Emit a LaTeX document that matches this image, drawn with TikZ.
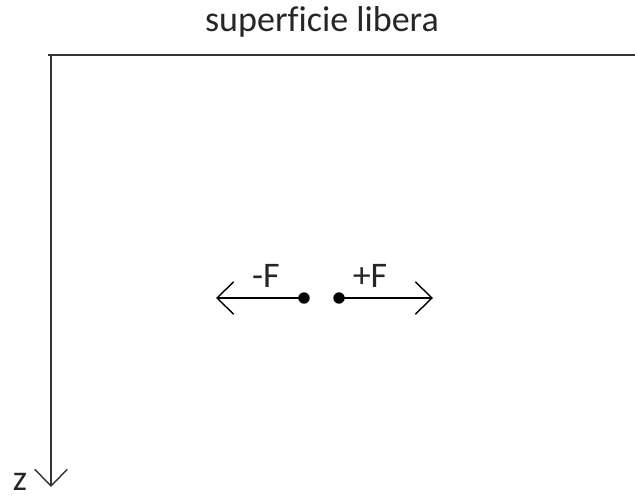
\documentclass[tikz,border=0pt]{standalone}
\usepackage{fontspec}
\setmainfont{Carlito}[Ligatures=CommonOff]
\usetikzlibrary{arrows.meta}

\begin{document}
\begin{tikzpicture}[x=0.02cm, y=-0.02cm]
    \useasboundingbox (0,0) rectangle (635,501);

    \tikzset{
        barb/.style={-{Straight Barb[length=9.5pt, width=18.5pt, line width=0.8pt]}},
        dot/.style={circle, fill=black, inner sep=0pt, minimum size=6.5pt},
        lbl/.style={font=\fontsize{20.5}{24}\selectfont, text=black!85}
    }

    \coordinate (corner) at (51, 55);
    \coordinate (topend) at (635, 55);
    \coordinate (zend) at (51, 487);
    \coordinate (tipL) at (216, 298);
    \coordinate (tipR) at (433, 298);

    \node[dot] (dotL) at (304, 298) {};
    \node[dot] (dotR) at (339, 298) {};

    \draw[line width=1.1pt, color=black!80] (48, 55) -- (topend);
    \draw[line width=0.9pt, color=black!80, barb] (corner) -- (zend);

    \draw[line width=0.8pt, barb] (dotL.center) -- (tipL);
    \draw[line width=0.8pt, barb] (dotR.center) -- (tipR);

    \node[lbl] (title) at (322, 22) {superficie libera};
    \node[lbl] (minusF) at (266, 276) {-F};
    \node[lbl] (plusF) at (370, 276) {+F};
    \node[lbl, inner sep=0pt] (zlabel) at (20, 482) {z};
\end{tikzpicture}
\end{document}
